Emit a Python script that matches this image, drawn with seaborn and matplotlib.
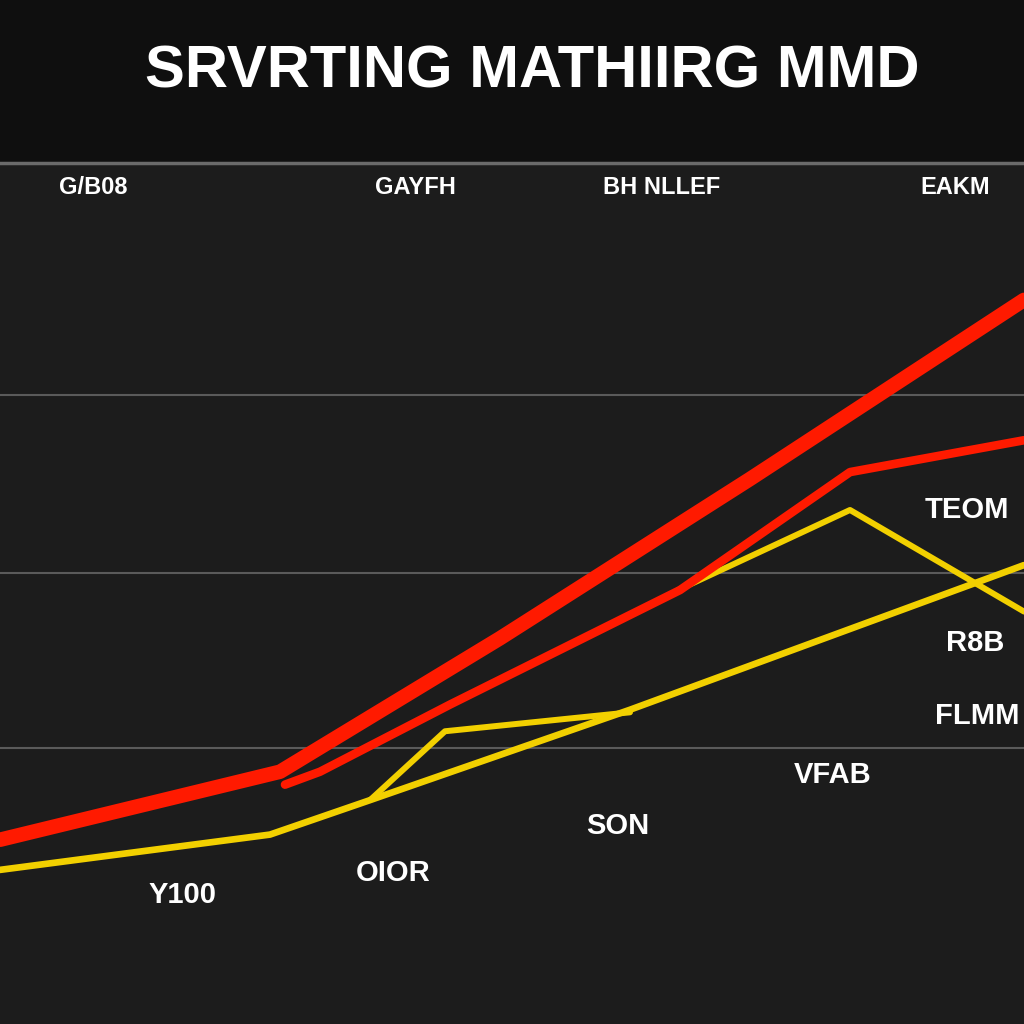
import numpy as np
import pandas as pd
import matplotlib.pyplot as plt
import seaborn as sns

# series (x = position along the axis, y = value 0-100)
red_main_x = [0, 280, 500, 750, 1024]
red_main_y = [21.4, 29.3, 44.8, 63.3, 84.1]
red_second_x = [285, 320, 450, 680, 850, 1024]
red_second_y = [27.8, 29.3, 37.1, 50.4, 64.1, 67.8]
yellow_low_x = [0, 270, 370, 630, 1024]
yellow_low_y = [17.9, 22.0, 26.0, 36.5, 53.3]
yellow_mid_x = [370, 445, 630]
yellow_mid_y = [26.0, 34.0, 36.2]
yellow_high_x = [678, 850, 1024]
yellow_high_y = [50.4, 59.7, 47.9]

grid_values = [32.1, 52.4, 73.1]

title = "SRVRTING MATHIIRG MMD"
header_labels = ["G/B08", "GAYFH", "BH NLLEF", "EAKM"]
header_x = [93, 415, 662, 955]
note_labels = ["TEOM", "R8B", "FLMM", "VFAB", "SON", "OIOR", "Y100"]
note_x = [967, 975, 977, 833, 618, 393, 183]
note_y = [510, 643, 716, 775, 826, 873, 895]

sns.set_style("dark")
plt.rcParams['font.family'] = ['Liberation Sans', 'DejaVu Sans']

fig = plt.figure(figsize=(10.24, 10.24), dpi=100)
fig.patch.set_facecolor("#0f0f0f")
ax = fig.add_axes([0, 0, 1, (1024 - 163) / 1024])
ax.set_facecolor("#1c1c1c")

for g in grid_values:
    ax.axhline(g, color="#5a5a5a", lw=1.5, zorder=1)

def draw(xs, ys, color, lw):
    df = pd.DataFrame({"x": xs, "y": ys})
    sns.lineplot(data=df, x="x", y="y", color=color, lw=lw, ax=ax,
                 sort=False, solid_capstyle="round", solid_joinstyle="round", zorder=3)

draw(yellow_low_x, yellow_low_y, "#f2d000", 4.8)
draw(yellow_mid_x, yellow_mid_y, "#f2d000", 4.3)
draw(yellow_high_x, yellow_high_y, "#f2d000", 4.3)
draw(red_second_x, red_second_y, "#ff1a00", 6.2)
draw(red_main_x, red_main_y, "#ff1a00", 10.5)

ax.set_xlim(0, 1024)
ax.set_ylim(0, 100)
ax.set_xlabel("")
ax.set_ylabel("")
ax.set_xticks([])
ax.set_yticks([])
for s in ax.spines.values():
    s.set_visible(False)
ax.spines["top"].set_visible(True)
ax.spines["top"].set_color("#6a6a6a")
ax.spines["top"].set_linewidth(2.5)

fig.text(532 / 1024, 1 - 72 / 1024, title, color="white", fontsize=43,
         fontweight="bold", ha="center", va="center")
for lab, x in zip(header_labels, header_x):
    fig.text(x / 1024, 1 - 188 / 1024, lab, color="white", fontsize=17,
             fontweight="bold", ha="center", va="center")
for lab, x, y in zip(note_labels, note_x, note_y):
    fig.text(x / 1024, 1 - y / 1024, lab, color="white", fontsize=21,
             fontweight="bold", ha="center", va="center")

fig.savefig("out.png", dpi=100, facecolor=fig.get_facecolor())
